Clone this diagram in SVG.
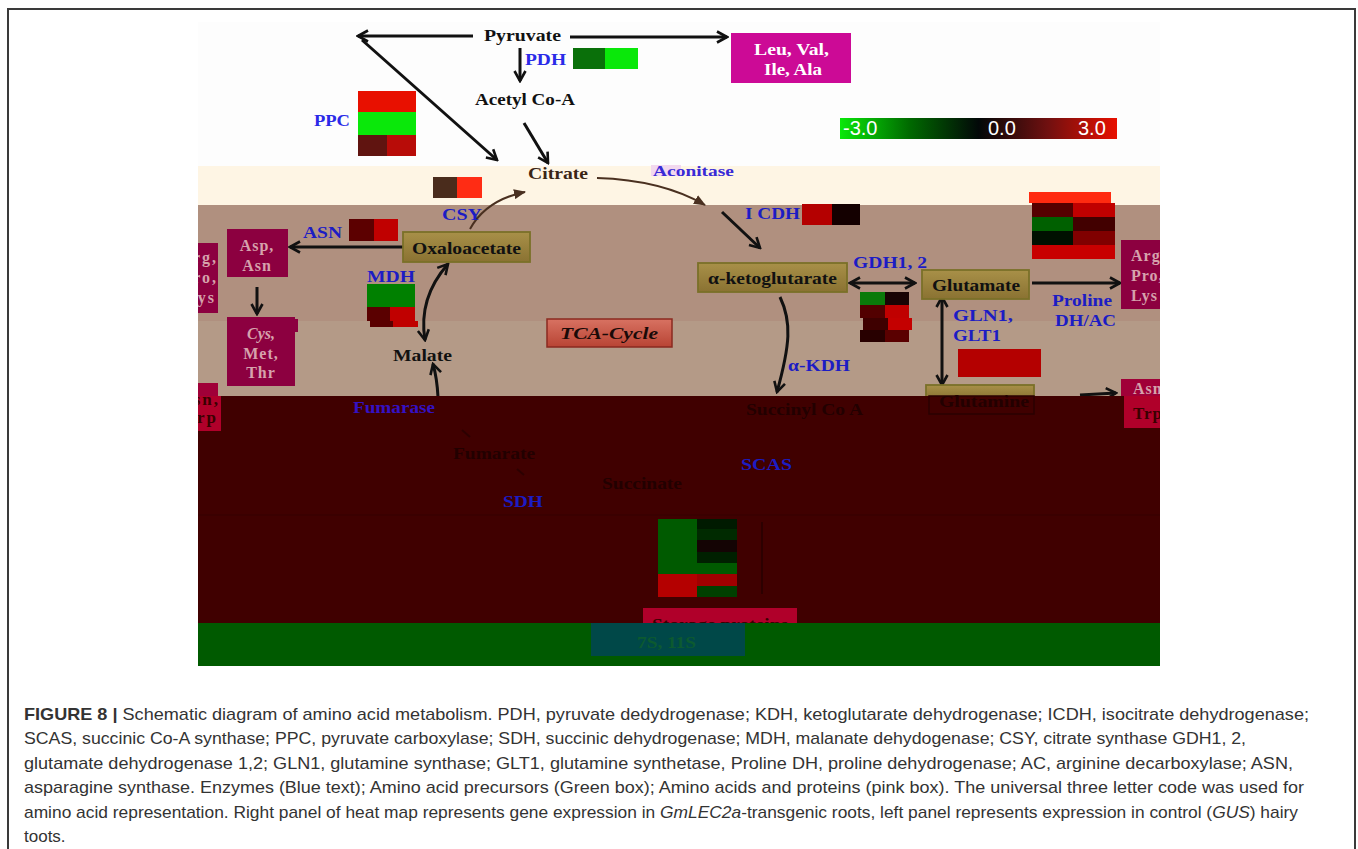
<svg xmlns="http://www.w3.org/2000/svg" width="1358" height="849" viewBox="0 0 1358 849">
<defs>
<style>
.lbl{font-family:"Liberation Serif","Times New Roman",serif;font-weight:bold;}
.blk{fill:#111;font-size:17px;}
.enz{fill:#1c1cc4;font-size:16px;}
.enzb{fill:#2a2ae8;font-size:16px;}
.pale{fill:#d6a2ac;font-size:16px;}
.dim{fill:#220000;font-size:16px;}
.ln{fill:none;stroke:#111;stroke-width:3;}
.lnb{fill:none;stroke:#4a3020;stroke-width:2;}
.box{fill:url(#olive);stroke:#7a7028;stroke-width:1.8;}
.mag{fill:#8c0040;}
.crim{fill:#b0002a;}
.cap{font-family:"Liberation Sans",Arial,sans-serif;font-size:17px;fill:#333;}
</style>
<linearGradient id="olive" x1="0" y1="0" x2="0" y2="1"><stop offset="0" stop-color="#a89048"/><stop offset="1" stop-color="#8a7232"/></linearGradient>
<linearGradient id="tca" x1="0" y1="0" x2="0" y2="1"><stop offset="0" stop-color="#d87262"/><stop offset="1" stop-color="#b84434"/></linearGradient>
<linearGradient id="scale" x1="0" y1="0" x2="1" y2="0"><stop offset="0" stop-color="#0ae80a"/><stop offset="0.25" stop-color="#006a00"/><stop offset="0.5" stop-color="#020808"/><stop offset="0.75" stop-color="#701010"/><stop offset="1" stop-color="#e81000"/></linearGradient>
<marker id="ah" viewBox="0 0 14 14" refX="12" refY="7" markerWidth="14" markerHeight="14" markerUnits="userSpaceOnUse" orient="auto-start-reverse"><path d="M2,1.5 L12,7 L2,12.5" fill="none" stroke="#111" stroke-width="2.6"/></marker>
<marker id="ahb" viewBox="0 0 12 10" refX="11" refY="5" markerWidth="12" markerHeight="10" markerUnits="userSpaceOnUse" orient="auto"><path d="M0,0 L12,5 L0,10 z" fill="#4a3020"/></marker>
<clipPath id="pic"><rect x="198" y="22" width="962" height="644"/></clipPath>
</defs>

<rect x="0" y="0" width="1358" height="849" fill="#ffffff"/>
<rect x="8" y="9" width="1347" height="880" fill="none" stroke="#3a3a3a" stroke-width="2"/>

<g id="background" clip-path="url(#pic)">
<rect x="198" y="22" width="962" height="145" fill="#fdfdfd"/>
<rect x="198" y="166" width="962" height="39" fill="#fef5e4"/>
<rect x="198" y="205" width="962" height="116" fill="#b0907f"/>
<rect x="198" y="321" width="962" height="75" fill="#b49a87"/>
</g>

<g id="colorbar">
<rect x="840" y="118" width="277" height="21" fill="url(#scale)"/>
<text x="843" y="135" font-family="Liberation Sans,Arial,sans-serif" font-size="20" fill="#ffffff">-3.0</text>
<text x="988" y="135" font-family="Liberation Sans,Arial,sans-serif" font-size="20" fill="#ffffff">0.0</text>
<text x="1078" y="135" font-family="Liberation Sans,Arial,sans-serif" font-size="20" fill="#ffffff">3.0</text>
</g>

<g id="connectors">
<line class="ln" x1="473" y1="36" x2="358" y2="36" marker-end="url(#ah)"/>
<line class="ln" x1="570" y1="37" x2="727" y2="37" marker-end="url(#ah)"/>
<line class="ln" x1="362" y1="40" x2="497" y2="160" marker-end="url(#ah)"/>
<line class="ln" x1="520" y1="48" x2="520" y2="81" marker-end="url(#ah)"/>
<line class="ln" x1="524" y1="123" x2="548" y2="163" marker-end="url(#ah)"/>
<path class="lnb" d="M470,229 Q486,200 525,192" marker-end="url(#ahb)"/>
<path class="lnb" d="M597,178 Q662,180 705,205" marker-end="url(#ahb)"/>
<line class="ln" x1="722" y1="212" x2="760" y2="248" marker-end="url(#ah)"/>
<line class="ln" x1="850" y1="283" x2="915" y2="283" marker-start="url(#ah)" marker-end="url(#ah)"/>
<line class="ln" x1="1032" y1="283" x2="1120" y2="283" marker-end="url(#ah)"/>
<line class="ln" x1="942" y1="297" x2="942" y2="385" marker-start="url(#ah)" marker-end="url(#ah)"/>
<path class="ln" d="M780,297 C792,322 790,345 777,392" marker-end="url(#ah)"/>
<line class="ln" x1="403" y1="247" x2="290" y2="247" marker-end="url(#ah)"/>
<line class="ln" x1="257" y1="287" x2="257" y2="314" marker-end="url(#ah)"/>
<path class="ln" d="M448,264 Q418,298 425,340" marker-start="url(#ah)" marker-end="url(#ah)"/>
<path class="ln" d="M438,397 Q437,378 433,364" marker-end="url(#ah)"/>
</g>

<g id="pyruvate"><text class="lbl blk" x="484" y="41" textLength="77" lengthAdjust="spacingAndGlyphs">Pyruvate</text></g>
<g id="pdh">
<text class="lbl enzb" x="525" y="65" textLength="41" lengthAdjust="spacingAndGlyphs">PDH</text>
<rect x="573" y="48" width="32" height="21" fill="#0a700a"/>
<rect x="605" y="48" width="33" height="21" fill="#0ae80a"/>
</g>
<g id="acetylcoa"><text class="lbl blk" x="475" y="105" textLength="100" lengthAdjust="spacingAndGlyphs">Acetyl Co-A</text></g>
<g id="aa-leu">
<rect x="731" y="33" width="120" height="50" fill="#cc0a96"/>
<text class="lbl" x="754" y="55" font-size="17" fill="#ffffff" textLength="75" lengthAdjust="spacingAndGlyphs">Leu, Val,</text>
<text class="lbl" x="764" y="75" font-size="17" fill="#ffffff" textLength="58" lengthAdjust="spacingAndGlyphs">Ile, Ala</text>
</g>
<g id="ppc">
<text class="lbl enzb" x="314" y="126" textLength="36" lengthAdjust="spacingAndGlyphs">PPC</text>
<rect x="358" y="91" width="58" height="21" fill="#e81000"/>
<rect x="358" y="112" width="58" height="23" fill="#0ae80a"/>
<rect x="358" y="135" width="29" height="21" fill="#601410"/>
<rect x="387" y="135" width="29" height="21" fill="#b80c08"/>
</g>
<g id="citrate"><text class="lbl" x="528" y="179" font-size="16" fill="#3a2515" textLength="60" lengthAdjust="spacingAndGlyphs">Citrate</text></g>
<g id="aconitase">
<rect x="651" y="165" width="30" height="11" fill="#f2d8ee"/>
<text class="lbl" x="653" y="176" font-size="15" fill="#3a2ad6" textLength="81" lengthAdjust="spacingAndGlyphs">Aconitase</text>
</g>
<g id="csy">
<rect x="433" y="177" width="24" height="21" fill="#4a2c1c"/>
<rect x="457" y="177" width="25" height="21" fill="#ff2c14"/>
<text class="lbl enz" x="442" y="220" textLength="40" lengthAdjust="spacingAndGlyphs">CSY</text>
</g>
<g id="asn">
<text class="lbl enz" x="303" y="238" textLength="39" lengthAdjust="spacingAndGlyphs">ASN</text>
<rect x="349" y="219" width="25" height="22" fill="#5c0000"/>
<rect x="374" y="219" width="24" height="22" fill="#c00000"/>
</g>
<g id="oxaloacetate">
<rect class="box" x="403" y="232" width="127" height="30"/>
<text class="lbl blk" x="412" y="254" textLength="109" lengthAdjust="spacingAndGlyphs">Oxaloacetate</text>
</g>
<g id="mdh">
<text class="lbl enz" x="367" y="282" textLength="48" lengthAdjust="spacingAndGlyphs">MDH</text>
<rect x="367" y="284" width="48" height="23" fill="#008000"/>
<rect x="367" y="307" width="23" height="14" fill="#5a0000"/>
<rect x="390" y="307" width="25" height="14" fill="#c00000"/>
<rect x="370" y="321" width="23" height="6" fill="#5a0000"/>
<rect x="393" y="321" width="25" height="6" fill="#c00000"/>
</g>
<g id="malate"><text class="lbl blk" x="393" y="361" textLength="59" lengthAdjust="spacingAndGlyphs">Malate</text></g>
<g id="tca-cycle">
<rect x="547" y="319" width="125" height="28" fill="url(#tca)" stroke="#8a2a20" stroke-width="1.5"/>
<text class="lbl" x="560" y="339" font-size="16" font-style="italic" fill="#1a0a08" textLength="98" lengthAdjust="spacingAndGlyphs">TCA-Cycle</text>
</g>
<g id="aa-asp">
<rect class="mag" x="227" y="229" width="61" height="48"/>
<text class="lbl pale" x="257" y="251" text-anchor="middle" letter-spacing="1">Asp,</text>
<text class="lbl pale" x="257" y="271" text-anchor="middle" letter-spacing="1">Asn</text>
</g>
<g id="aa-cys">
<rect class="mag" x="227" y="317" width="68" height="69"/>
<rect class="mag" x="291" y="319" width="7" height="13"/>
<text class="lbl pale" x="261" y="339" text-anchor="middle" font-style="italic">Cys,</text>
<text class="lbl pale" x="261" y="359" text-anchor="middle" letter-spacing="1">Met,</text>
<text class="lbl pale" x="261" y="378" text-anchor="middle" letter-spacing="1">Thr</text>
</g>
<g id="aa-arg-left" clip-path="url(#pic)">
<rect class="mag" x="190" y="243" width="28" height="70"/>
<text class="lbl pale" x="218" y="263" text-anchor="end" letter-spacing="2">Arg,</text>
<text class="lbl pale" x="218" y="283" text-anchor="end" letter-spacing="2">Pro,</text>
<text class="lbl pale" x="216" y="303" text-anchor="end" letter-spacing="2">Lys</text>
</g>
<g id="icdh">
<text class="lbl enz" x="745" y="219" textLength="55" lengthAdjust="spacingAndGlyphs">I CDH</text>
<rect x="802" y="204" width="30" height="21" fill="#b40000"/>
<rect x="832" y="204" width="28" height="21" fill="#140000"/>
</g>
<g id="ketoglutarate">
<rect class="box" x="698" y="263" width="149" height="29"/>
<text class="lbl blk" x="708" y="284" textLength="129" lengthAdjust="spacingAndGlyphs">α-ketoglutarate</text>
</g>
<g id="gdh">
<text class="lbl enz" x="853" y="268" textLength="74" lengthAdjust="spacingAndGlyphs">GDH1, 2</text>
<rect x="860" y="292" width="25" height="13" fill="#0a7a0a"/>
<rect x="885" y="292" width="24" height="13" fill="#180404"/>
<rect x="860" y="305" width="25" height="13" fill="#520000"/>
<rect x="885" y="305" width="24" height="13" fill="#c00000"/>
<rect x="863" y="318" width="25" height="12" fill="#3e0000"/>
<rect x="888" y="318" width="24" height="12" fill="#c40000"/>
<rect x="860" y="330" width="25" height="12" fill="#280000"/>
<rect x="885" y="330" width="24" height="12" fill="#5a0000"/>
</g>
<g id="glutamate">
<rect class="box" x="922" y="270" width="107" height="29"/>
<text class="lbl blk" x="932" y="291" textLength="88" lengthAdjust="spacingAndGlyphs">Glutamate</text>
</g>
<g id="gln">
<text class="lbl enz" x="953" y="321" textLength="60" lengthAdjust="spacingAndGlyphs">GLN1,</text>
<text class="lbl enz" x="953" y="341" textLength="48" lengthAdjust="spacingAndGlyphs">GLT1</text>
<rect x="958" y="349" width="83" height="28" fill="#b40000"/>
</g>
<g id="proline">
<text class="lbl enz" x="1052" y="306" textLength="60" lengthAdjust="spacingAndGlyphs">Proline</text>
<text class="lbl enz" x="1055" y="326" textLength="61" lengthAdjust="spacingAndGlyphs">DH/AC</text>
</g>
<g id="heatmap-right">
<rect x="1029" y="192" width="82" height="11" fill="#ff2a10"/>
<rect x="1032" y="203" width="41" height="14" fill="#550000"/>
<rect x="1073" y="203" width="42" height="14" fill="#c00000"/>
<rect x="1032" y="217" width="41" height="14" fill="#006000"/>
<rect x="1073" y="217" width="42" height="14" fill="#420000"/>
<rect x="1032" y="231" width="41" height="14" fill="#001000"/>
<rect x="1073" y="231" width="42" height="14" fill="#800000"/>
<rect x="1032" y="245" width="83" height="14" fill="#c80000"/>
</g>
<g id="aa-arg-right" clip-path="url(#pic)">
<rect class="mag" x="1121" y="240" width="50" height="69"/>
<text class="lbl pale" x="1131" y="261" letter-spacing="1">Arg,</text>
<text class="lbl pale" x="1131" y="281" letter-spacing="1">Pro,</text>
<text class="lbl pale" x="1131" y="301" letter-spacing="1">Lys</text>
</g>
<g id="akdh"><text class="lbl enz" x="788" y="371" textLength="62" lengthAdjust="spacingAndGlyphs">α-KDH</text></g>
<g id="glutamine-top"><rect class="box" x="926" y="385" width="108" height="14"/></g>
<g id="aa-asn-right-top" clip-path="url(#pic)">
<rect x="1121" y="379" width="50" height="17" fill="#a00038"/>
<text class="lbl pale" x="1133" y="394" letter-spacing="1">Asn,</text>
</g>
<g id="aa-asn-left-top" clip-path="url(#pic)">
<rect x="190" y="383" width="28" height="13" fill="#a00038"/>
</g>
<g id="arrow-asn"><line class="ln" x1="1080" y1="395" x2="1116" y2="393" marker-end="url(#ah)"/></g>

<g id="lower-bands" clip-path="url(#pic)">
<rect x="198" y="396" width="962" height="227" fill="#400000"/>
<line x1="198" y1="515" x2="1160" y2="515" stroke="#340000" stroke-width="1"/>
</g>
<g id="faint-connectors" fill="none" stroke="#2c0000" stroke-width="2">
<line x1="462" y1="430" x2="470" y2="437"/>
<line x1="517" y1="469" x2="524" y2="475"/>
<line x1="762" y1="522" x2="762" y2="594"/>
</g>

<g id="glutamine">
<rect x="929" y="396" width="105" height="18" fill="none" stroke="#2a0000" stroke-width="1.5"/>
<text class="lbl dim" x="939" y="407" font-size="17" textLength="90" lengthAdjust="spacingAndGlyphs">Glutamine</text>
</g>
<g id="aa-asn-right" clip-path="url(#pic)">
<rect class="crim" x="1124" y="396" width="40" height="32"/>
<text class="lbl" x="1133" y="419" font-size="17" fill="#3a0000" letter-spacing="1">Trp</text>
</g>
<g id="aa-asn-left" clip-path="url(#pic)">
<rect class="crim" x="190" y="396" width="31" height="35"/>
<text class="lbl" x="220" y="405" font-size="17" fill="#3a0000" text-anchor="end" letter-spacing="2">Asn,</text>
<text class="lbl" x="218" y="423" font-size="17" fill="#3a0000" text-anchor="end" letter-spacing="2">Trp</text>
</g>
<g id="fumarase"><text class="lbl" x="353" y="413" font-size="16" fill="#3412c4" textLength="82" lengthAdjust="spacingAndGlyphs">Fumarase</text></g>
<g id="succinylcoa"><text class="lbl dim" x="746" y="415" textLength="117" lengthAdjust="spacingAndGlyphs">Succinyl Co A</text></g>
<g id="fumarate"><text class="lbl dim" x="453" y="459" textLength="82" lengthAdjust="spacingAndGlyphs">Fumarate</text></g>
<g id="scas"><text class="lbl enz" x="741" y="470" fill="#2a1ad0" textLength="51" lengthAdjust="spacingAndGlyphs">SCAS</text></g>
<g id="succinate"><text class="lbl dim" x="602" y="489" textLength="80" lengthAdjust="spacingAndGlyphs">Succinate</text></g>
<g id="sdh"><text class="lbl enz" x="503" y="507" fill="#2a1ad0" textLength="40" lengthAdjust="spacingAndGlyphs">SDH</text></g>
<g id="heatmap-storage">
<rect x="658" y="519" width="39" height="55" fill="#005a00"/>
<rect x="658" y="574" width="39" height="23" fill="#b40000"/>
<rect x="697" y="519" width="40" height="10" fill="#001a00"/>
<rect x="697" y="529" width="40" height="11" fill="#002a00"/>
<rect x="697" y="540" width="40" height="12" fill="#140404"/>
<rect x="697" y="552" width="40" height="11" fill="#002000"/>
<rect x="697" y="563" width="40" height="11" fill="#005a00"/>
<rect x="697" y="574" width="40" height="12" fill="#a00000"/>
<rect x="697" y="586" width="40" height="11" fill="#004000"/>
</g>
<g id="storage-proteins">
<rect class="crim" x="643" y="608" width="154" height="16"/>
<text class="lbl" x="652" y="630" font-size="17" fill="#3a0000" textLength="136" lengthAdjust="spacingAndGlyphs">Storage proteins</text>
</g>
<g id="green-band"><rect x="198" y="623" width="962" height="43" fill="#005a00"/></g>
<g id="seed-proteins">
<rect x="591" y="623" width="154" height="33" fill="#004848"/>
<text class="lbl" x="637" y="648" font-size="17" fill="#0c5a30" textLength="59" lengthAdjust="spacingAndGlyphs">7S, 11S</text>
</g>

<g id="caption">
<text class="cap" x="24" y="720" textLength="1285" lengthAdjust="spacingAndGlyphs"><tspan font-weight="bold">FIGURE 8 |</tspan> Schematic diagram of amino acid metabolism. PDH, pyruvate dedydrogenase; KDH, ketoglutarate dehydrogenase; ICDH, isocitrate dehydrogenase;</text>
<text class="cap" x="24" y="744" textLength="1222" lengthAdjust="spacingAndGlyphs">SCAS, succinic Co-A synthase; PPC, pyruvate carboxylase; SDH, succinic dehydrogenase; MDH, malanate dehydogenase; CSY, citrate synthase GDH1, 2,</text>
<text class="cap" x="24" y="769" textLength="1269" lengthAdjust="spacingAndGlyphs">glutamate dehydrogenase 1,2; GLN1, glutamine synthase; GLT1, glutamine synthetase, Proline DH, proline dehydrogenase; AC, arginine decarboxylase; ASN,</text>
<text class="cap" x="24" y="793" textLength="1280" lengthAdjust="spacingAndGlyphs">asparagine synthase. Enzymes (Blue text); Amino acid precursors (Green box); Amino acids and proteins (pink box). The universal three letter code was used for</text>
<text class="cap" x="24" y="818" textLength="1274" lengthAdjust="spacingAndGlyphs">amino acid representation. Right panel of heat map represents gene expression in <tspan font-style="italic">GmLEC2a</tspan>-transgenic roots, left panel represents expression in control (<tspan font-style="italic">GUS</tspan>) hairy</text>
<text class="cap" x="24" y="842">toots.</text>
</g>
</svg>
